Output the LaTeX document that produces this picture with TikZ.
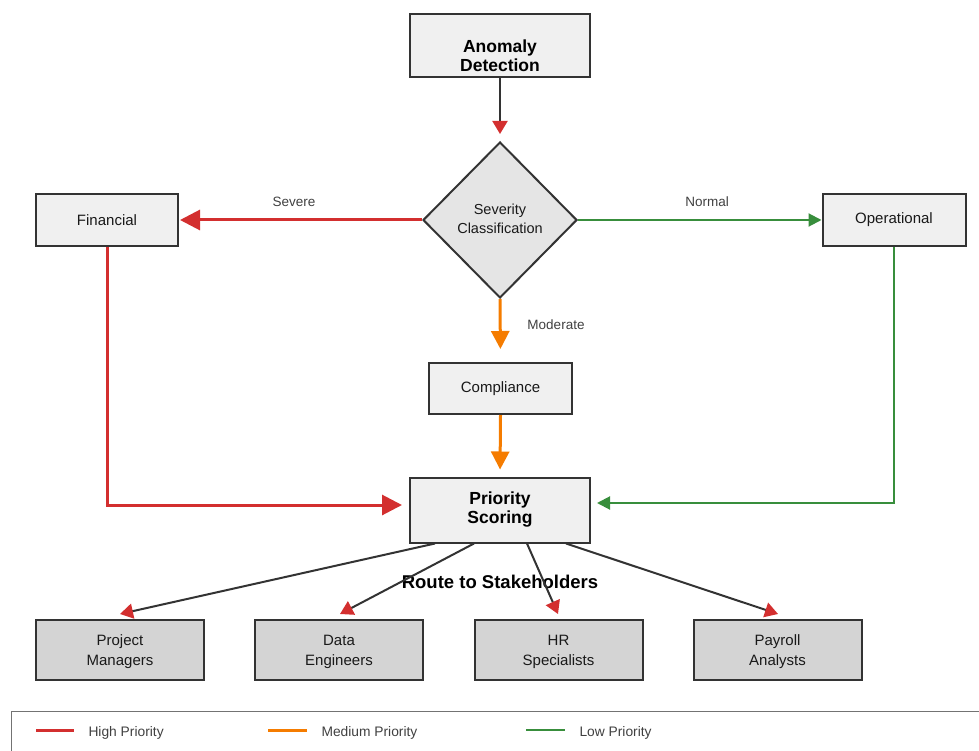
\documentclass[tikz,border=0pt]{standalone}
\usepackage{fontspec}
\setmainfont{Liberation Sans}
\usetikzlibrary{arrows.meta,shapes.geometric}
\definecolor{hi}{HTML}{D32F2F}
\definecolor{med}{HTML}{F57C00}
\definecolor{low}{HTML}{388E3C}
\definecolor{edge}{HTML}{333333}
\tikzset{
  x=1pt,y=-1pt,
  box/.style={draw=edge,line width=2pt,fill=black!6,rectangle,inner sep=0pt},
  leaf/.style={draw=edge,line width=2pt,fill=black!17,rectangle,inner sep=0pt,minimum width=168pt,minimum height=60pt},
  txt/.style={align=center,font=\fontsize{15}{19}\selectfont,text=black!90},
  ttl/.style={align=center,font=\fontsize{17.5}{19}\selectfont\bfseries,text=black},
  elab/.style={font=\fontsize{13.5}{16}\selectfont,text=black!75},
  hiA/.style={draw=hi,line width=3pt,-{Triangle[length=20pt,width=20pt]},shorten >=1pt},
  medA/.style={draw=med,line width=3pt,-{Triangle[length=18pt,width=18pt]}},
  lowA/.style={draw=low,line width=2pt,-{Triangle[length=13pt,width=13pt]}},
  stA/.style={draw=edge,line width=2pt,-{Triangle[length=13pt,width=15pt,color=hi]}},
}
\begin{document}
\begin{tikzpicture}
\useasboundingbox (0,0) rectangle (979,751);
% nodes
\node[box,minimum width=180pt,minimum height=63pt] (ad) at (500,45.5) {};
\node[ttl] (adt) at (500,55.5) {Anomaly\\[0.5pt]Detection};
\node[diamond,draw=edge,line width=2pt,fill=black!10,minimum width=154pt,minimum height=156pt,inner sep=0pt] (sc) at (500,220) {};
\node[txt,font=\fontsize{14.5}{19}\selectfont] (sct) at (500,218.5) {Severity\\Classification};
\node[box,minimum width=142pt,minimum height=52pt,txt] (fin) at (107,220) {Financial};
\node[box,minimum width=143pt,minimum height=52pt,txt] (op) at (894,220) {Operational};
\node[box,minimum width=143pt,minimum height=51pt,txt] (co) at (500.5,388.5) {Compliance};
\node[box,minimum width=180pt,minimum height=65pt] (ps) at (500,510) {};
\node[ttl] (pst) at (500,509.5) {Priority\\[0.5pt]Scoring};
\node[ttl,font=\fontsize{18.5}{19}\selectfont\bfseries] (route) at (500,582) {Route to Stakeholders};
\node[leaf] (pm) at (120,650) {};
\node[leaf] (de) at (339,650) {};
\node[leaf] (hr) at (558.5,650) {};
\node[leaf] (pa) at (777.5,650) {};
\node[txt] (pmt) at (120,652) {Project\\[1pt]Managers};
\node[txt] (det) at (339,652) {Data\\[1pt]Engineers};
\node[txt] (hrt) at (558.5,652) {HR\\[1pt]Specialists};
\node[txt] (pat) at (777.5,652) {Payroll\\[1pt]Analysts};
% connectors
\draw[stA,shorten >=7pt] (ad.south) -- (sc.north);
\draw[hiA] (sc.west) -- (fin.east);
\draw[lowA] (sc.east) -- (op.west);
\draw[medA,shorten >=13pt] (sc.south) -- (co.north);
\draw[medA,shorten >=7pt] (co.south) -- (ps.north);
\coordinate (fc) at (107,505);
\coordinate (oc) at (894,503);
\draw[hiA,shorten >=7pt] (fin.south) -- (fc) -- (ps.west |- fc);
\draw[lowA,shorten >=6pt] (op.south) -- (oc) -- (ps.east |- oc);
\node[elab] (l1) at (294,202) {Severe};
\node[elab] (l2) at (707,202) {Normal};
\node[elab] (l3) at (556,325) {Moderate};
% stakeholder arrows
\coordinate (s1) at (435,543.5);
\coordinate (s2) at (474,543.5);
\coordinate (s3) at (527,543.5);
\coordinate (s4) at (566,543.5);
\coordinate (t1) at (120,614);
\coordinate (t2) at (340,614);
\coordinate (t3) at (558,614);
\coordinate (t4) at (778,614);
\draw[stA] (s1) -- (t1);
\draw[stA] (s2) -- (t2);
\draw[stA] (s3) -- (t3);
\draw[stA] (s4) -- (t4);
% legend
\node[draw=black!55,line width=1pt,rectangle,minimum width=1000pt,minimum height=60pt,anchor=north west,inner sep=0pt] (leg) at (11,711) {};
\coordinate (a1) at (36,730); \coordinate (b1) at (74,730);
\coordinate (a2) at (268,730); \coordinate (b2) at (307,730);
\coordinate (a3) at (526,730); \coordinate (b3) at (565,730);
\draw[hi,line width=3pt] (a1) -- (b1);
\draw[med,line width=3pt] (a2) -- (b2);
\draw[low,line width=2pt] (a3) -- (b3);
\node[elab,anchor=west,font=\fontsize{13.8}{16}\selectfont] (h1) at (85,733) {High Priority};
\node[elab,anchor=west,font=\fontsize{13.8}{16}\selectfont] (h2) at (318,733) {Medium Priority};
\node[elab,anchor=west,font=\fontsize{13.8}{16}\selectfont] (h3) at (576,733) {Low Priority};
\end{tikzpicture}
\end{document}
